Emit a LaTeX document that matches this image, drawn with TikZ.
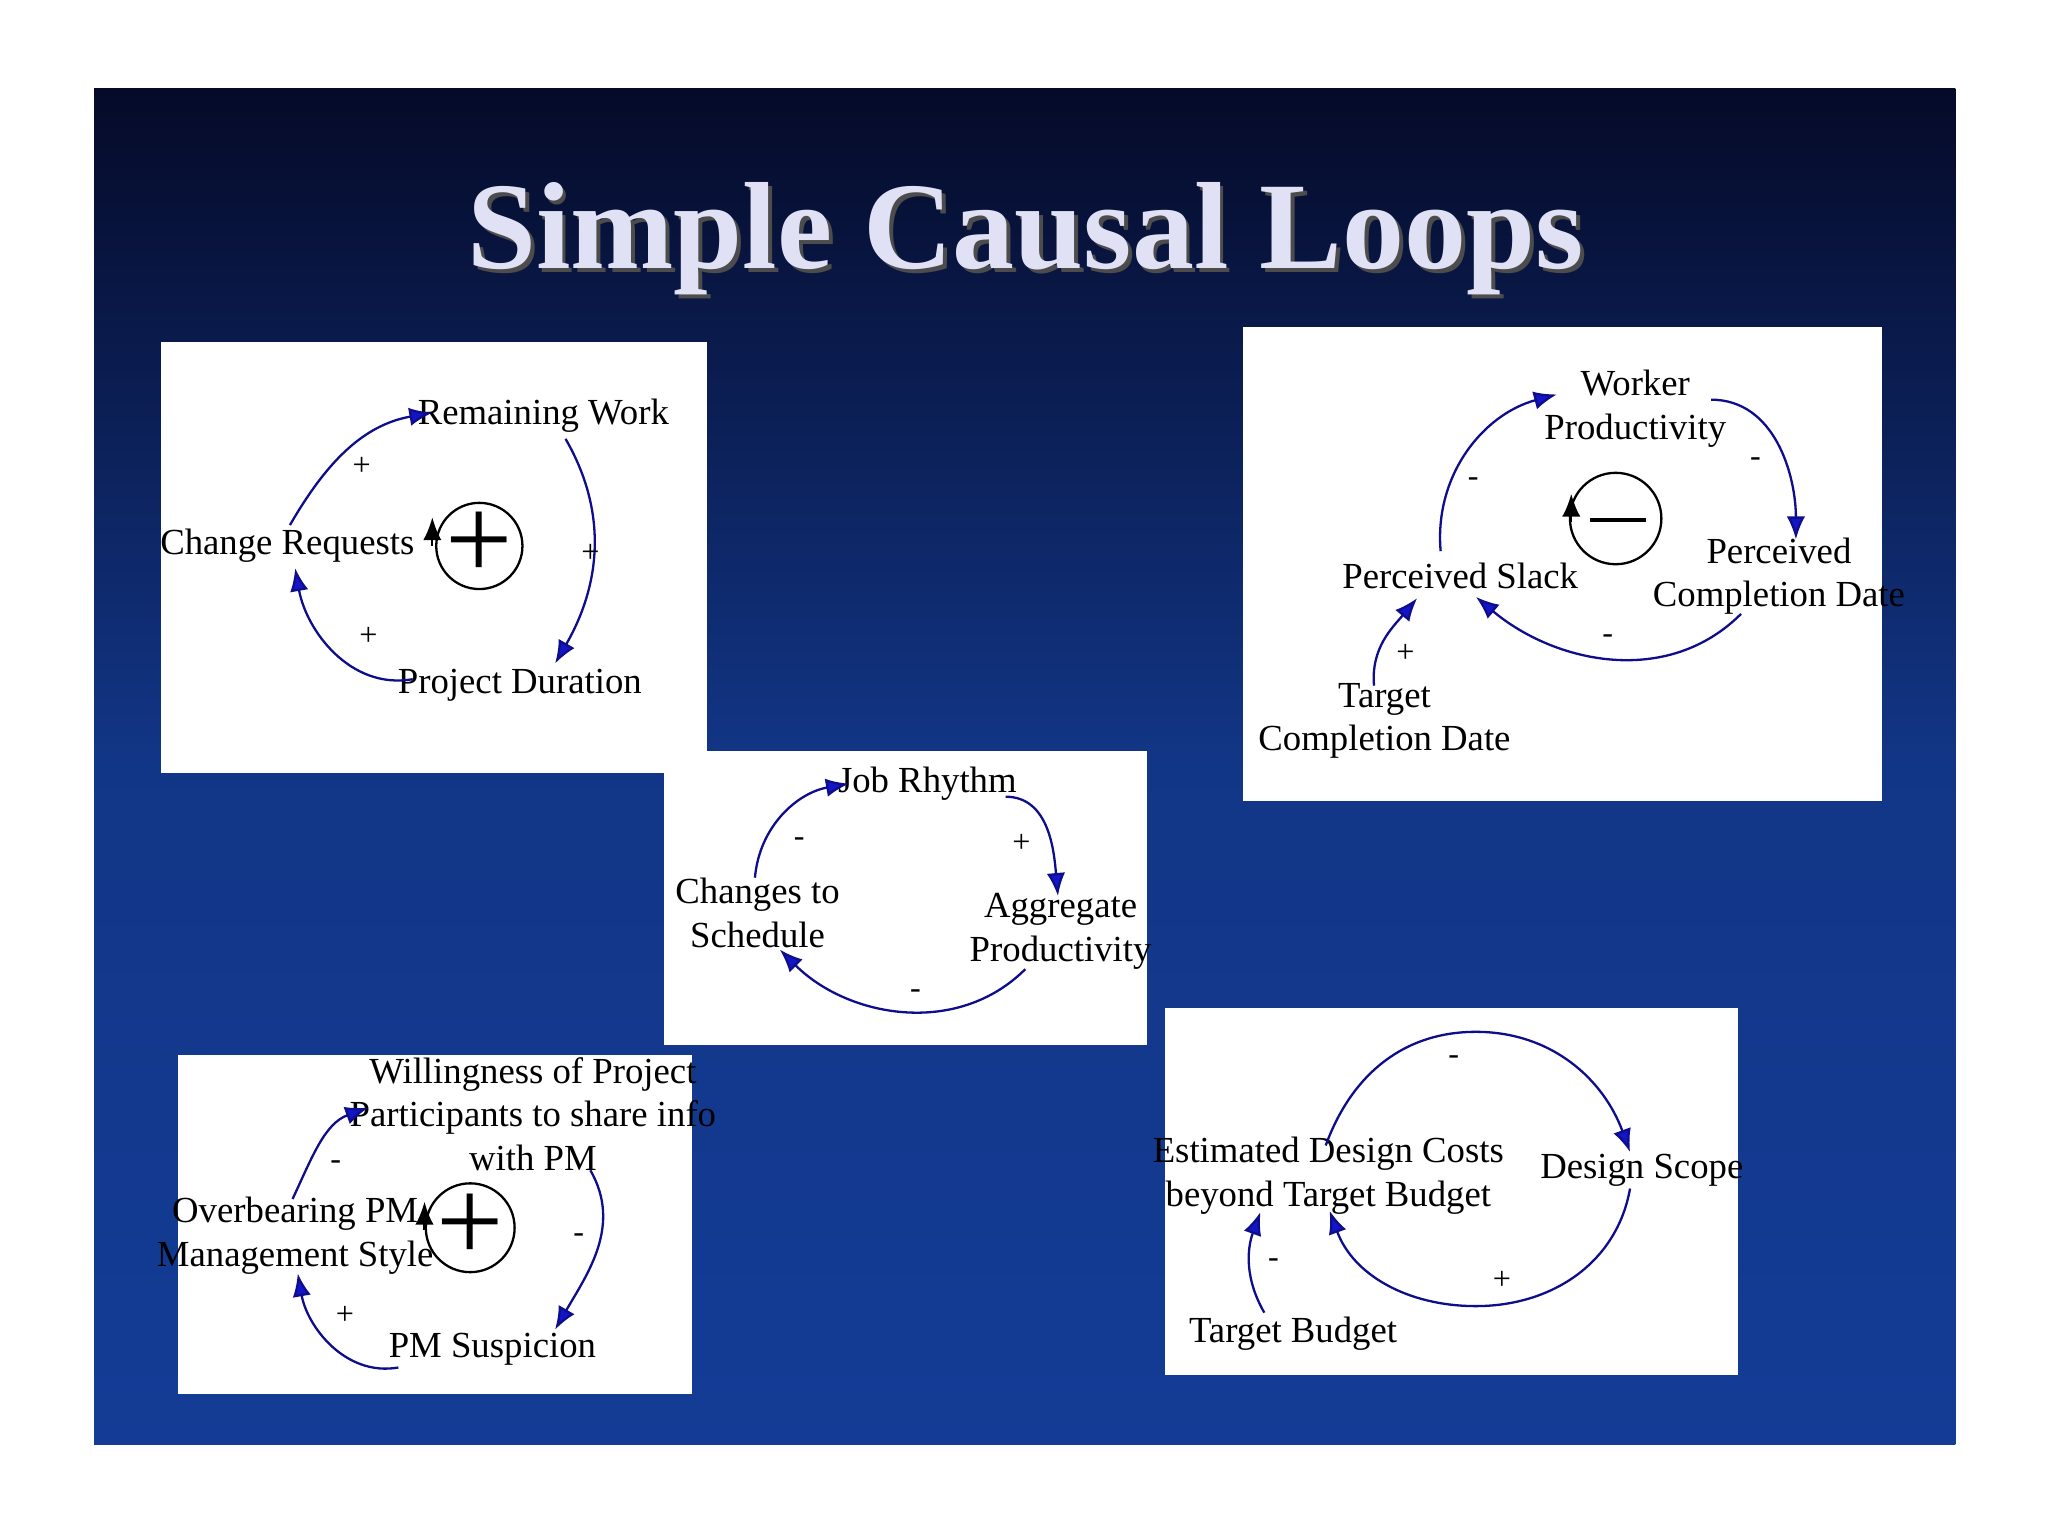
\documentclass[tikz,border=0pt]{standalone}
\usepackage{fontspec}
\setmainfont{Liberation Serif}
\usetikzlibrary{arrows.meta}
\definecolor{slidetop}{RGB}{5,10,40}
\definecolor{slidebot}{RGB}{20,60,150}
\definecolor{arr}{RGB}{20,20,200}
\definecolor{ttl}{RGB}{225,225,245}
\tikzset{
 panel/.style={fill=white,draw=none},
 lbl/.style={font=\fontsize{8}{9.5}\selectfont,align=center,inner sep=1pt},
 sgn/.style={font=\fontsize{7}{8}\selectfont,inner sep=0pt},
 link/.style={draw=arr!70!black,line width=0.5pt,-{Latex[length=5pt,width=4pt,fill=arr]}},
 loopc/.style={draw=black,line width=0.5pt},
}
\begin{document}
\begin{tikzpicture}[x=0.01cm,y=-0.01cm]
\useasboundingbox (0,0) rectangle (1568,1176);
\fill[white] (0,0) rectangle (1568,1176);
\shade[top color=slidetop,bottom color=slidebot,middle color=slidebot!90!black] (72,68) rectangle (1497,1106);
\node[font=\fontsize{27}{30}\selectfont\bfseries,text=black!70] (titleshadow) at (788,186) {Simple Causal Loops};
\node[font=\fontsize{27}{30}\selectfont\bfseries,text=ttl] (title) at (785,183) {Simple Causal Loops};
% panels
\fill[panel] (123,262) rectangle (541,592);
\fill[panel] (508,575) rectangle (878,800);
\fill[panel] (952,250) rectangle (1441,613);
\fill[panel] (136,808) rectangle (530,1067);
\fill[panel] (892,772) rectangle (1331,1053);
% ---- panel 1
\node[lbl] (rw) at (416,318) {Remaining Work};
\node[lbl] (cr) at (220,418) {Change Requests};
\node[lbl] (pd) at (398,525) {Project Duration};
\coordinate (a1) at (222,402); \coordinate (a2) at (331,316);
\coordinate (b1) at (433,336); \coordinate (b2) at (425,508);
\coordinate (c1) at (316,520); \coordinate (c2) at (226,435);
\draw[link] (a1) to[out=60,in=190] (a2);
\draw[link] (b1) to[out=-60,in=60] (b2);
\draw[link] (c1) to[out=190,in=-80] (c2);
\node[sgn] (s11) at (277,357) {+};
\node[sgn] (s12) at (452,424) {+};
\node[sgn] (s13) at (282,487) {+};
\draw[loopc] (367,418) circle (33);
\node[font=\fontsize{26}{26}\selectfont] (lp1) at (367,418) {+};
\draw[-{Latex[length=5pt,width=4pt]},line width=0.5pt] (331,418) -- (331,396);
% ---- panel 2
\node[lbl] (jr) at (710,600) {Job Rhythm};
\node[lbl] (cs) at (580,699) {Changes to\\Schedule};
\node[lbl] (ap) at (812,713) {Aggregate\\Productivity};
\coordinate (d1) at (578,672); \coordinate (d2) at (650,600);
\coordinate (e1) at (770,610); \coordinate (e2) at (810,686);
\coordinate (f1) at (785,742); \coordinate (f2) at (597,727);
\draw[link] (d1) to[out=-95+180,in=190] (d2);
\draw[link] (e1) to[out=0,in=95] (e2);
\draw[link] (f1) to[out=-135,in=-45] (f2);
\node[sgn] (s21) at (612,645) {-};
\node[sgn] (s22) at (782,646) {+};
\node[sgn] (s23) at (701,761) {-};
% ---- panel 3
\node[lbl] (wp) at (1252,313) {Worker\\Productivity};
\node[lbl] (ps) at (1118,441) {Perceived Slack};
\node[lbl] (pc) at (1362,441) {Perceived\\Completion Date};
\node[lbl] (tc) at (1060,552) {Target\\Completion Date};
\coordinate (g1) at (1103,422); \coordinate (g2) at (1192,302);
\coordinate (h1) at (1310,306); \coordinate (h2) at (1375,413);
\coordinate (i1) at (1333,470); \coordinate (i2) at (1130,457);
\coordinate (j1) at (1052,525); \coordinate (j2) at (1085,458);
\draw[link] (g1) to[out=95,in=195] (g2);
\draw[link] (h1) to[out=0,in=90] (h2);
\draw[link] (i1) to[out=-135,in=-40] (i2);
\draw[link] (j1) to[out=95,in=-130] (j2);
\node[sgn] (s31) at (1128,369) {-};
\node[sgn] (s32) at (1344,354) {-};
\node[sgn] (s33) at (1231,489) {-};
\node[sgn] (s34) at (1076,500) {+};
\draw[loopc] (1237,397) circle (35);
\draw[line width=0.9pt] (1217,398) -- (1260,398);
\draw[-{Latex[length=5pt,width=4pt]},line width=0.5pt] (1203,400) -- (1203,378);
% ---- panel 4
\node[lbl] (wi) at (408,853) {Willingness of Project\\Participants to share info\\with PM};
\node[lbl] (op) at (226,946) {Overbearing PM\\Management Style};
\node[lbl] (pms) at (377,1033) {PM Suspicion};
\coordinate (k1) at (224,918); \coordinate (k2) at (282,848);
\coordinate (l1) at (452,896); \coordinate (l2) at (425,1018);
\coordinate (m1) at (305,1047); \coordinate (m2) at (228,975);
\draw[link] (k1) to[out=65,in=200] (k2);
\draw[link] (l1) to[out=-60,in=60] (l2);
\draw[link] (m1) to[out=190,in=-80] (m2);
\node[sgn] (s41) at (257,892) {-};
\node[sgn] (s42) at (443,948) {-};
\node[sgn] (s43) at (264,1007) {+};
\draw[loopc] (360,940) circle (34);
\node[font=\fontsize{26}{26}\selectfont] (lp4) at (360,940) {+};
\draw[-{Latex[length=5pt,width=4pt]},line width=0.5pt] (325,942) -- (325,920);
% ---- panel 5
\node[lbl] (ed) at (1017,900) {Estimated Design Costs\\beyond Target Budget};
\node[lbl] (ds) at (1257,896) {Design Scope};
\node[lbl] (tb) at (990,1021) {Target Budget};
\coordinate (n1) at (1015,877); \coordinate (n2) at (1248,882);
\coordinate (o1) at (1248,910); \coordinate (o2) at (1018,927);
\coordinate (p1) at (968,1005); \coordinate (p2) at (965,928);
\draw[link] (n1) to[out=70,in=180] (1130,790) to[out=0,in=110] (n2);
\draw[link] (o1) to[out=-100,in=0] (1130,1000) to[out=180,in=-70] (o2);
\draw[link] (p1) to[out=120,in=-110] (p2);
\node[sgn] (s51) at (1113,812) {-};
\node[sgn] (s52) at (1150,980) {+};
\node[sgn] (s53) at (975,967) {-};
\end{tikzpicture}
\end{document}
